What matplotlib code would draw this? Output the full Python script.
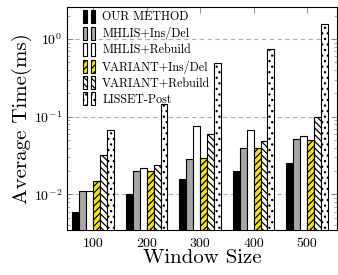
import matplotlib
matplotlib.use("Agg")
import matplotlib.pyplot as plt
import numpy as np
from matplotlib.patches import Rectangle
from matplotlib.legend_handler import HandlerBase
from matplotlib.ticker import LogLocator, NullFormatter

plt.rcParams['font.family'] = ['cmr10', 'DejaVu Serif']
plt.rcParams['mathtext.fontset'] = 'cm'
plt.rcParams['axes.formatter.use_mathtext'] = True
plt.rcParams['hatch.linewidth'] = 0.9
plt.rcParams['axes.unicode_minus'] = True

window_sizes = [100, 200, 300, 400, 500]
series_names = ["OUR METHOD", "MHLIS+Ins/Del", "MHLIS+Rebuild",
                "VARIANT+Ins/Del", "VARIANT+Rebuild", "LISSET-Post"]
our_method = [0.0059, 0.0100, 0.0155, 0.0200, 0.0254]
mhlis_insdel = [0.0110, 0.0200, 0.0289, 0.0390, 0.0520]
mhlis_rebuild = [0.0109, 0.0221, 0.0770, 0.0680, 0.0560]
variant_insdel = [0.0146, 0.0202, 0.0298, 0.0400, 0.0500]
variant_rebuild = [0.0318, 0.0237, 0.0607, 0.0480, 0.0990]
lisset_post = [0.067, 0.145, 0.486, 0.736, 1.56]
series = [our_method, mhlis_insdel, mhlis_rebuild, variant_insdel, variant_rebuild, lisset_post]

styles = [
    dict(facecolor='black', hatch=None),
    dict(facecolor='#a8a8a8', hatch=None),
    dict(facecolor='white', hatch=None),
    dict(facecolor='#f5e600', hatch='/////'),
    dict(facecolor='white', hatch='\\\\\\\\\\'),
    dict(facecolor='white', hatch='...'),
]

fig = plt.figure(figsize=(3.38, 2.75), dpi=100)
ax = fig.add_axes([0.198, 0.164, 0.799, 0.811])

w = 13.0
x = np.array(window_sizes, dtype=float)
handles = []
for i, (vals, st) in enumerate(zip(series, styles)):
    off = (i - 2.5) * w
    b = ax.bar(x + off, vals, width=w, bottom=1e-4, facecolor=st['facecolor'],
               edgecolor='black', linewidth=0.8, hatch=st['hatch'], zorder=3,
               label=series_names[i])
    handles.append(b[0])

ax.set_yscale('log')
ax.set_ylim(0.0035, 2.6)
ax.set_xlim(51, 556)
ax.set_xticks(window_sizes)
ax.set_xticklabels([str(v) for v in window_sizes])
ax.yaxis.set_major_locator(LogLocator(base=10, numticks=10))
ax.yaxis.set_minor_locator(LogLocator(base=10, subs=np.arange(2, 10), numticks=20))
ax.yaxis.set_minor_formatter(NullFormatter())
ax.grid(axis='y', which='major', linestyle=(0, (4, 3)), color='#b0b0b0', linewidth=0.8, zorder=0)
ax.tick_params(axis='both', which='both', direction='in', top=True, right=True, labelsize=10)
ax.tick_params(axis='both', which='major', length=4, width=0.6, color='#808080')
ax.tick_params(axis='y', which='minor', length=2.5, width=0.5, color='#808080')
ax.tick_params(axis='x', which='major', pad=6)
for s in ax.spines.values():
    s.set_linewidth(0.8)

ax.set_xlabel("Window Size", fontsize=15, labelpad=-1)
ax.set_ylabel("Average Time(ms)", fontsize=15, labelpad=1)


class TwoBarHandler(HandlerBase):
    def create_artists(self, legend, orig_handle, xdescent, ydescent, width, height, fontsize, trans):
        arts = []
        bw = width * 0.28
        for k, x0 in enumerate([0.05 * width, 0.55 * width]):
            r = Rectangle((x0 - xdescent, -ydescent - 0.1 * height), bw, height * 1.2,
                          facecolor=orig_handle.get_facecolor(),
                          edgecolor='black', linewidth=0.8,
                          hatch=orig_handle.get_hatch(), transform=trans)
            arts.append(r)
        return arts


leg = ax.legend(handles, series_names, loc='upper left', bbox_to_anchor=(0.03, 1.015),
                frameon=False, fontsize=8.7, handlelength=1.3, handleheight=1.0,
                handletextpad=0.35, labelspacing=0.3, borderaxespad=0.2,
                handler_map={h: TwoBarHandler() for h in handles})

fig.savefig("out.png", dpi=100)
